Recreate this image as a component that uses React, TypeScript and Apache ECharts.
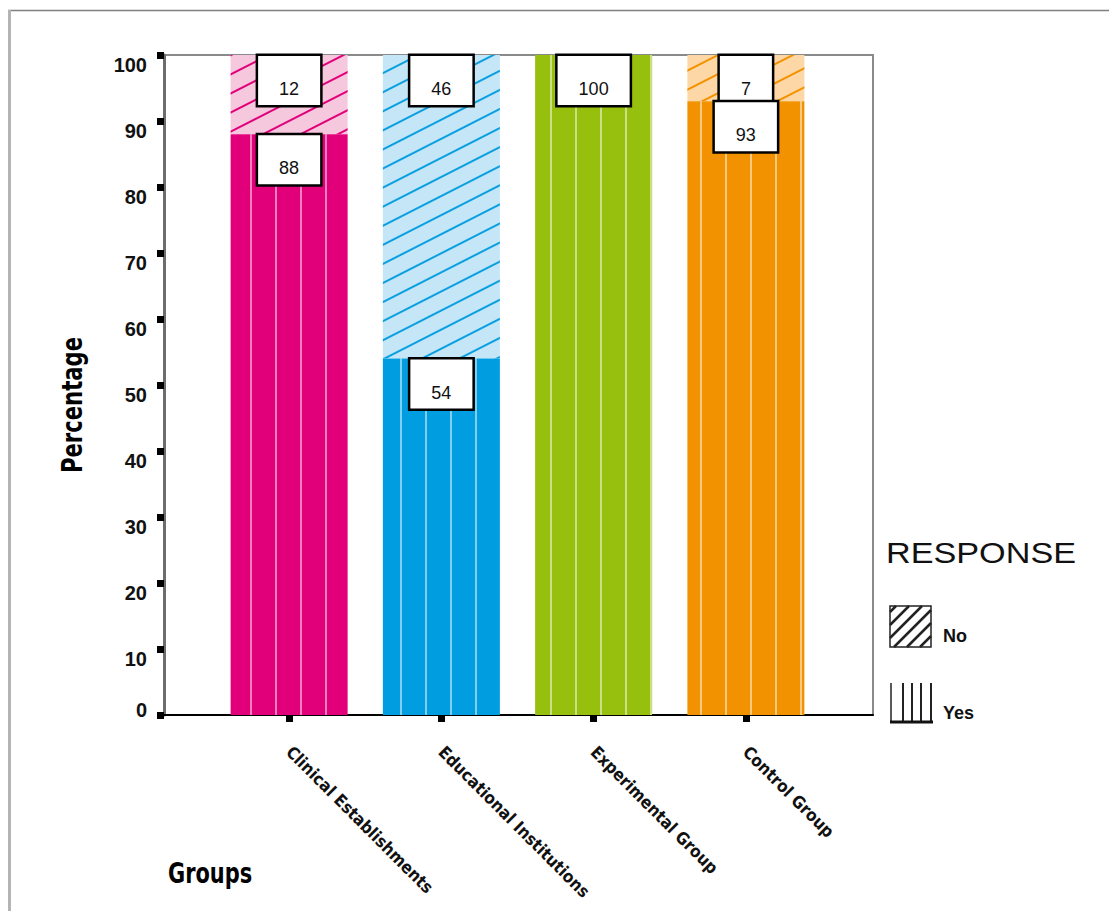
import React, { useEffect, useRef } from 'react';
import * as echarts from 'echarts';

// Survey responses per group, in percent
const groups = ['Clinical Establishments', 'Educational Institutions', 'Experimental Group', 'Control Group'];
const yesValues = [88, 54, 100, 93];
const noValues = [12, 46, 0, 7];

// Per-group palette: solid fill for "Yes", light tint + hatch for "No"
const yesColors = ['#E2007A', '#009EE0', '#97BF0D', '#F39200'];
const noColors = ['#F6C8DD', '#C4E6F7', '#E4F0BE', '#FDD8A6'];
const hatchColors = ['#E2007A', '#0A9FE0', '#97BF0D', '#F39200'];

const yMin = 0;
const yMax = 100;
const yStep = 10;

const NARROW = '"Liberation Sans Narrow", "DejaVu Sans Condensed", "Roboto Condensed", "Liberation Sans", sans-serif';
const SANS = '"Liberation Sans", Arial, sans-serif';

const W = 1109;
const H = 911;

// Plot frame and inner band layout
const frame = { left: 164, right: 873, top: 55, bottom: 715 };
const band = { left: 213, right: 822 };

const valueLabel = {
  show: true,
  position: 'insideTop',
  distance: 1,
  color: '#111',
  fontFamily: SANS,
  fontSize: 18,
  lineHeight: 18,
  backgroundColor: '#fff',
  borderColor: '#000',
  borderWidth: 2.5,
  padding: [24, 21, 7, 21],
};

const verticalDecal = {
  symbol: 'rect',
  symbolSize: 1,
  color: 'rgba(255,255,255,0.5)',
  dashArrayX: [1.5, 23],
  dashArrayY: [10, 0],
};

function hatchDecal(color: string) {
  return {
    symbol: 'rect',
    symbolSize: 1,
    color,
    dashArrayX: [10, 0],
    dashArrayY: [1.4, 14.6],
    rotation: (-27 * Math.PI) / 180,
  };
}

function legendGraphics() {
  const els: any[] = [];
  // "No" swatch: square with diagonal hatching rising to the right
  const nx = 890, ny = 606, ns = 41;
  els.push({ type: 'rect', shape: { x: nx, y: ny, width: ns, height: ns }, style: { fill: '#fff', stroke: '#222', lineWidth: 1.5 } });
  [-30, -17, -4, 9, 22, 35].forEach((c) => {
    // local coords: u to the right, v upwards from the bottom edge; line v - u = c
    const u1 = c >= 0 ? 0 : -c;
    const v1 = c >= 0 ? c : 0;
    const u2 = c >= 0 ? ns - c : ns;
    const v2 = c >= 0 ? ns : ns + c;
    els.push({
      type: 'line',
      shape: { x1: nx + u1, y1: ny + ns - v1, x2: nx + u2, y2: ny + ns - v2 },
      style: { stroke: '#222', lineWidth: 2.5 },
    });
  });
  // "Yes" swatch: vertical stripes over a base line
  const yx = 890, yy = 683, ys = 39;
  els.push({ type: 'line', shape: { x1: yx + 1, y1: yy, x2: yx + 1, y2: yy + ys }, style: { stroke: '#222', lineWidth: 1.5 } });
  [13, 22, 31, 41].forEach((dx) => {
    els.push({ type: 'line', shape: { x1: yx + dx, y1: yy, x2: yx + dx, y2: yy + ys }, style: { stroke: '#222', lineWidth: 2 } });
  });
  els.push({ type: 'line', shape: { x1: yx, y1: yy + ys, x2: yx + 43, y2: yy + ys }, style: { stroke: '#111', lineWidth: 3 } });

  els.push({ type: 'text', x: 886, y: 553, scaleX: 1.14, style: { text: 'RESPONSE', font: `30px ${SANS}`, fill: '#111', textAlign: 'left', textVerticalAlign: 'middle', align: 'left', verticalAlign: 'middle' } });
  els.push({ type: 'text', x: 943, y: 636, style: { text: 'No', font: `bold 18px ${SANS}`, fill: '#111', textAlign: 'left', textVerticalAlign: 'middle', align: 'left', verticalAlign: 'middle' } });
  els.push({ type: 'text', x: 943, y: 713, style: { text: 'Yes', font: `bold 18px ${SANS}`, fill: '#111', textAlign: 'left', textVerticalAlign: 'middle', align: 'left', verticalAlign: 'middle' } });
  return els;
}

export default function App() {
  const ref = useRef<HTMLDivElement>(null);

  useEffect(() => {
    if (!ref.current) return;
    const chart = echarts.init(ref.current, undefined, { renderer: 'svg' });

    const gridFrame = { left: frame.left, right: W - frame.right, top: frame.top, bottom: H - frame.bottom };
    const gridBars = { left: band.left, right: W - band.right, top: frame.top, bottom: H - frame.bottom };

    const option: any = {
      animation: false,
      backgroundColor: '#fff',
      grid: [
        { ...gridFrame, outerBoundsMode: 'none', containLabel: false, show: true, borderColor: '#8a8a8a', borderWidth: 2, backgroundColor: 'transparent' },
        { ...gridBars, outerBoundsMode: 'none', containLabel: false },
      ],
      xAxis: [
        {
          gridIndex: 0,
          type: 'value',
          min: 0,
          max: 1,
          axisLine: { show: true, onZero: false, lineStyle: { color: '#000', width: 2 } },
          axisTick: { show: false },
          axisLabel: { show: false },
          splitLine: { show: false },
        },
        {
          gridIndex: 1,
          type: 'category',
          data: groups,
          axisLine: { show: false },
          axisTick: { show: true, alignWithLabel: true, length: 7, lineStyle: { color: '#000', width: 7 } },
          axisLabel: {
            rotate: -45,
            margin: 34,
            color: '#111',
            fontFamily: NARROW,
            fontWeight: 'bold',
            fontSize: 17,
            interval: 0,
          },
        },
      ],
      yAxis: [
        {
          gridIndex: 0,
          type: 'value',
          min: yMin,
          max: yMax,
          interval: yStep,
          axisLine: { show: true, lineStyle: { color: '#6d6d6d', width: 3 } },
          axisTick: { show: true, length: 7, lineStyle: { color: '#000', width: 7 } },
          splitLine: { show: false },
          axisLabel: {
            margin: 17,
            formatter: (v: number) => (v === 0 ? `{z|${v}}` : `{n|${v}}`),
            rich: {
              n: { fontFamily: SANS, fontWeight: 'bold', fontSize: 20, color: '#111', padding: [20, 0, 0, 0] },
              z: { fontFamily: SANS, fontWeight: 'bold', fontSize: 20, color: '#111', padding: [0, 0, 10, 0] },
            },
          },
        },
        {
          gridIndex: 1,
          type: 'value',
          min: yMin,
          max: yMax,
          interval: yStep,
          show: false,
        },
      ],
      series: [
        {
          name: 'Yes',
          type: 'bar',
          xAxisIndex: 1,
          yAxisIndex: 1,
          stack: 'response',
          barWidth: 117,
          z: 3,
          label: valueLabel,
          data: yesValues.map((v, i) => ({
            value: v,
            itemStyle: { color: yesColors[i], decal: verticalDecal },
            label: { show: v > 0 },
          })),
        },
        {
          name: 'No',
          type: 'bar',
          xAxisIndex: 1,
          yAxisIndex: 1,
          stack: 'response',
          barWidth: 117,
          z: 2,
          label: valueLabel,
          data: noValues.map((v, i) => ({
            value: v,
            itemStyle: { color: noColors[i], decal: hatchDecal(hatchColors[i]) },
            label: { show: v > 0 },
          })),
        },
      ],
      graphic: [
        // page frame
        { type: 'line', shape: { x1: 8, y1: 10.5, x2: W, y2: 10.5 }, style: { stroke: '#808080', lineWidth: 1.5 } },
        { type: 'line', shape: { x1: 9.5, y1: 10, x2: 9.5, y2: H }, style: { stroke: '#b4b4b4', lineWidth: 3 } },
        {
          type: 'text',
          x: 72,
          y: 405,
          rotation: Math.PI / 2,
          scaleX: 0.84,
          style: { text: 'Percentage', font: `bold 28px ${NARROW}`, fill: '#000', textAlign: 'center', textVerticalAlign: 'middle', align: 'center', verticalAlign: 'middle' },
        },
        {
          type: 'text',
          x: 168,
          y: 873,
          scaleX: 0.83,
          style: { text: 'Groups', font: `bold 28px ${NARROW}`, fill: '#000', textAlign: 'left', textVerticalAlign: 'middle', align: 'left', verticalAlign: 'middle' },
        },
        ...legendGraphics(),
      ],
    };

    chart.setOption(option);
    return () => chart.dispose();
  }, []);

  return <div ref={ref} style={{ position: 'absolute', left: 0, top: 0, width: W, height: H }} />;
}
